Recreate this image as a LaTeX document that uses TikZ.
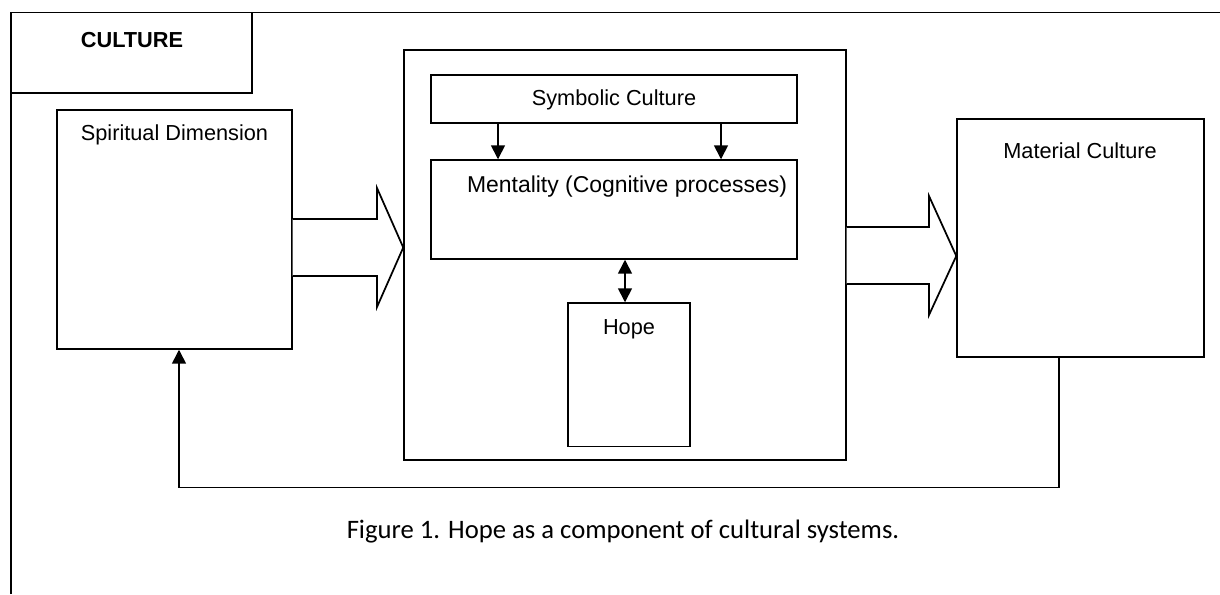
\documentclass[tikz,border=0pt]{standalone}
\usepackage{fontspec}
\setmainfont{Liberation Sans}
\newfontfamily\capfont{Carlito}
\usetikzlibrary{arrows.meta,fit}
\tikzset{
  box/.style={draw, line width=1.1pt, inner sep=0pt},
  txt/.style={font=\fontsize{16.3}{19}\selectfont, inner sep=0pt},
  arr/.style={line width=1.2pt, -{Triangle[length=10.5pt,width=10.5pt]}},
  darr/.style={line width=1.2pt, {Triangle[length=10.5pt,width=10.5pt]}-{Triangle[length=10.5pt,width=10.5pt]}},
  blockarrow/.style={draw, line width=1.3pt, line join=miter, fill=white}
}
\begin{document}
\begin{tikzpicture}[x=0.75pt,y=-0.75pt]
\useasboundingbox (0,0) rectangle (1220,594);
% outer frame
\draw[line width=1.2pt] (11,594) -- (11,12.5) -- (1220,12.5);
\node[box, fit={(11,12.5) (252,93)}] (cul) {};
\node[txt, font=\fontsize{16.3}{19}\selectfont\bfseries] (cultxt) at (132,40) {CULTURE};
% boxes
\node[box, fit={(57,110) (292,349)}] (sp) {};
\node[txt] (sptxt) at (174.5,135) {Spiritual Dimension};
\node[box, fit={(404,50) (846,460)}] (mid) {};
\node[box, fit={(431,75) (797,123)}] (sym) {};
\node[txt] (symtxt) at (614,100) {Symbolic Culture};
\node[box, fit={(431,160) (797,259)}] (ment) {};
\node[txt, font=\fontsize{17.2}{20}\selectfont] (menttxt) at (627,187) {Mentality (Cognitive processes)};
\node[box, fit={(568,303) (690,446.5)}] (hope) {};
\node[txt] (hopetxt) at (629,329) {Hope};
\node[box, fit={(957,119) (1204,357)}] (mat) {};
\node[txt] (mattxt) at (1080,151) {Material Culture};
% block arrows
\draw[blockarrow] (sp.east |- 0,219) -- (377,219) -- (377,188) -- (mid.west |- 0,247.5) -- (377,307) -- (377,276) -- (sp.east |- 0,276);
\draw[blockarrow] (mid.east |- 0,227) -- (929,227) -- (929,196) -- (mat.west |- 0,256) -- (929,315) -- (929,284) -- (mid.east |- 0,284);
% symbolic -> mentality
\coordinate (a1) at (498,0);
\coordinate (a2) at (721,0);
\coordinate (a3) at (625,0);
\draw[arr] (a1 |- sym.south) -- (a1 |- ment.north);
\draw[arr] (a2 |- sym.south) -- (a2 |- ment.north);
\draw[darr] (a3 |- ment.south) -- (a3 |- hope.north);
% feedback
\coordinate (fbR) at (1059,487.5);
\coordinate (fbL) at (179,487.5);
\draw[arr] (fbR |- mat.south) -- (fbR) -- (fbL) -- (fbL |- sp.south);
% caption
\node[inner sep=0pt, anchor=base, font=\capfont\fontsize{20}{24}\selectfont] (cap) at (623,538) {Figure 1. Hope as a component of cultural systems.};
\end{tikzpicture}
\end{document}
